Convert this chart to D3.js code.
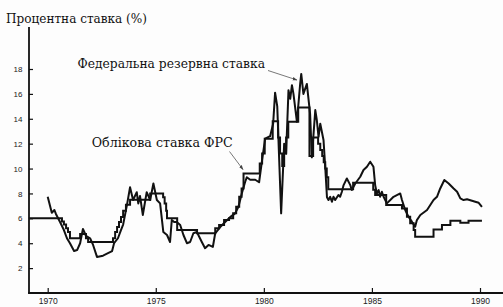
<!DOCTYPE html>
<html>
<head>
<meta charset="utf-8">
<script src="https://cdn.jsdelivr.net/npm/d3@7"></script>
<style>
  html, body { margin: 0; padding: 0; background: #fdfdfd; }
  svg { display: block; }
</style>
</head>
<body>
<div id="chart"></div>
<script>
// federal funds rate
const ffYears = [1970.00, 1970.19, 1970.31, 1970.38, 1970.57, 1970.75, 1970.89, 1971.03, 1971.22, 1971.36,
  1971.50, 1971.63, 1971.77, 1971.96, 1972.10, 1972.28, 1972.56, 1972.79, 1972.98, 1973.07,
  1973.25, 1973.39, 1973.49, 1973.58, 1973.67, 1973.81, 1973.95, 1974.12, 1974.19, 1974.27,
  1974.40, 1974.58, 1974.74, 1974.89, 1975.05, 1975.20, 1975.35, 1975.52, 1975.66, 1975.74,
  1975.85, 1975.97, 1976.13, 1976.28, 1976.44, 1976.59, 1976.74, 1976.90, 1977.13, 1977.28,
  1977.44, 1977.64, 1977.75, 1977.98, 1978.21, 1978.44, 1978.67, 1978.82, 1978.98, 1979.13,
  1979.21, 1979.37, 1979.60, 1979.78, 1979.92, 1980.06, 1980.29, 1980.43, 1980.52, 1980.62,
  1980.71, 1980.80, 1980.94, 1981.03, 1981.14, 1981.22, 1981.30, 1981.37, 1981.53, 1981.68,
  1981.73, 1981.83, 1981.99, 1982.14, 1982.22, 1982.38, 1982.45, 1982.53, 1982.61, 1982.76,
  1982.84, 1982.92, 1982.99, 1983.07, 1983.15, 1983.22, 1983.30, 1983.45, 1983.53, 1983.61,
  1983.69, 1983.84, 1984.00, 1984.07, 1984.23, 1984.46, 1984.61, 1984.77, 1984.92, 1985.07,
  1985.15, 1985.23, 1985.31, 1985.38, 1985.46, 1985.54, 1985.69, 1985.85, 1986.00, 1986.31,
  1986.39, 1986.54, 1986.69, 1986.85, 1987.00, 1987.08, 1987.24, 1987.55, 1987.85, 1988.01,
  1988.16, 1988.35, 1988.55, 1988.78, 1988.94, 1989.09, 1989.24, 1989.40, 1989.63, 1989.78,
  1989.94, 1990.09];
const ffRates = [7.74, 6.45, 6.67, 6.35, 5.7, 5.06, 4.4, 4.0, 3.37, 3.45,
  4.0, 5.15, 4.6, 4.4, 3.86, 2.9, 3.0, 3.2, 3.37, 4.0,
  4.4, 5.06, 5.5, 6.3, 7.1, 8.5, 7.47, 8.1, 7.2, 7.8,
  6.27, 8.1, 7.47, 8.8, 7.47, 7.2, 4.9, 4.66, 4.1, 5.86,
  5.7, 5.7, 5.46, 4.66, 4.0, 4.1, 4.8, 4.9, 4.1, 3.6,
  3.86, 3.7, 4.8, 5.3, 5.7, 6.1, 6.4, 6.9, 8.0, 8.9,
  9.3, 9.1, 9.1, 8.9, 10.7, 12.4, 12.6, 13.6, 16.1, 15.0,
  10.7, 6.4, 12.0, 11.2, 16.3, 15.6, 16.7, 16.0, 13.76, 16.8,
  17.6, 16.0, 16.8, 14.4, 10.9, 14.7, 13.9, 12.55, 13.6, 12.3,
  10.1, 7.7, 7.47, 7.73, 7.33, 7.73, 7.47, 7.87, 7.73, 8.14,
  8.67, 9.2, 8.67, 8.27, 8.8, 9.34, 9.88, 10.15, 10.55, 10.15,
  8.67, 8.0, 8.27, 7.73, 8.14, 7.73, 7.2, 7.47, 7.73, 8.0,
  7.47, 6.67, 6.13, 5.73, 5.33, 5.86, 6.27, 6.67, 7.47, 7.73,
  8.4, 9.08, 8.8, 8.4, 8.14, 7.6, 7.47, 7.53, 7.41, 7.33,
  7.25, 6.93];

// discount rate (step changes)
const drYears = [1969.13, 1970.66, 1970.75, 1970.85, 1970.94, 1971.03, 1971.50, 1971.77, 1971.87, 1973.02,
  1973.12, 1973.21, 1973.30, 1973.39, 1973.49, 1973.62, 1973.81, 1974.74, 1975.34, 1975.41,
  1975.48, 1975.52, 1975.99, 1976.91, 1977.75, 1977.93, 1978.16, 1978.39, 1978.58, 1978.72,
  1978.86, 1978.97, 1979.06, 1979.81, 1979.92, 1980.04, 1980.41, 1980.66, 1980.75, 1980.85,
  1980.94, 1981.03, 1981.13, 1981.59, 1982.11, 1982.28, 1982.51, 1982.61, 1982.70, 1982.77,
  1982.84, 1982.91, 1982.98, 1984.13, 1985.06, 1985.15, 1985.66, 1986.39, 1986.62, 1986.77,
  1986.93, 1987.00, 1987.85, 1988.24, 1988.63, 1989.09, 1989.47, 1990.09];
const drRates = [6.0, 5.75, 5.5, 5.2, 4.9, 4.4, 4.75, 4.4, 4.1, 4.4,
  4.9, 5.3, 5.7, 6.1, 6.6, 7.1, 7.5, 8.0, 7.7, 7.2,
  6.6, 6.0, 5.06, 4.8, 5.2, 5.46, 5.86, 6.0, 6.4, 6.93,
  7.73, 8.4, 9.6, 10.4, 11.2, 12.4, 13.8, 12.5, 11.2, 10.2,
  11.2, 12.5, 13.76, 14.9, 11.0, 12.5, 12.0, 11.5, 11.0, 10.5,
  10.0, 9.3, 8.33, 8.86, 8.3, 7.87, 7.07, 6.8, 6.13, 5.6,
  5.06, 4.52, 5.1, 5.46, 5.8, 5.65, 5.8, 5.8];

const yTicks = [2, 4, 6, 8, 10, 12, 14, 16, 18];
const xTicks = [1970, 1975, 1980, 1985, 1990];

const width = 503, height = 307;

const svg = d3.select('#chart')
  .append('svg')
  .attr('width', width)
  .attr('height', height)
  .attr('viewBox', `0 0 ${width} ${height}`)
  .style('font-family', '"Liberation Sans", Arial, sans-serif');

const x = d3.scaleLinear().domain([1970, 1990]).range([47.7, 480]);
const y = d3.scaleLinear().domain([0, 18]).range([293, 69]);

// axes
const yAxis = d3.axisLeft(y).tickValues(yTicks).tickSizeInner(-4).tickSizeOuter(0).tickPadding(6.5);
const gy = svg.append('g').attr('transform', 'translate(29,0)').call(yAxis);
gy.select('.domain').remove();
gy.selectAll('.tick line').attr('stroke', '#111').attr('stroke-width', 1.2);
gy.selectAll('.tick text').attr('fill', '#222').style('font-size', '8px');

const xAxis = d3.axisBottom(x).tickValues(xTicks).tickFormat(d3.format('d'))
  .tickSizeInner(-5).tickSizeOuter(0).tickPadding(5);
const gx = svg.append('g').attr('transform', 'translate(0,293)').call(xAxis);
gx.select('.domain').remove();
gx.selectAll('.tick line').attr('stroke', '#111').attr('stroke-width', 1.2);
gx.selectAll('.tick text').attr('fill', '#222').style('font-size', '8.5px');

svg.append('line')
  .attr('x1', 29).attr('x2', 29).attr('y1', 27).attr('y2', 293.8)
  .attr('stroke', '#111').attr('stroke-width', 1.8);
svg.append('line')
  .attr('x1', 28.1).attr('x2', 503).attr('y1', 293).attr('y2', 293)
  .attr('stroke', '#111').attr('stroke-width', 1.8);

// series
const ffData = ffYears.map((yr, i) => [yr, ffRates[i]]);
const drData = drYears.map((yr, i) => [yr, drRates[i]]);

const line = d3.line().x(d => x(d[0])).y(d => y(d[1]));
const stepLine = d3.line().x(d => x(d[0])).y(d => y(d[1])).curve(d3.curveStepAfter);

svg.append('path')
  .attr('d', stepLine(drData))
  .attr('fill', 'none')
  .attr('stroke', '#111')
  .attr('stroke-width', 2)
  .attr('stroke-linejoin', 'miter');

svg.append('path')
  .attr('d', line(ffData))
  .attr('fill', 'none')
  .attr('stroke', '#111')
  .attr('stroke-width', 2)
  .attr('stroke-linejoin', 'round');

// texts
const serif = '"DejaVu Serif", "Liberation Serif", serif';

svg.append('text')
  .attr('x', 6).attr('y', 23.3)
  .attr('textLength', 141).attr('lengthAdjust', 'spacingAndGlyphs')
  .style('font-family', serif).style('font-size', '13.5px').attr('fill', '#111')
  .text('Процентна ставка (%)');

svg.append('text')
  .attr('x', 77.5).attr('y', 68.3)
  .attr('textLength', 187.5).attr('lengthAdjust', 'spacingAndGlyphs')
  .style('font-family', serif).style('font-size', '12.5px').attr('fill', '#111')
  .text('Федеральна резервна ставка');

svg.append('text')
  .attr('x', 91.7).attr('y', 146.7)
  .attr('textLength', 141).attr('lengthAdjust', 'spacingAndGlyphs')
  .style('font-family', serif).style('font-size', '12.5px').attr('fill', '#111')
  .text('Облікова ставка ФРС');

// arrows
svg.append('defs').append('marker')
  .attr('id', 'head')
  .attr('viewBox', '0 0 10 10')
  .attr('refX', 9).attr('refY', 5)
  .attr('markerWidth', 6).attr('markerHeight', 6)
  .attr('orient', 'auto')
  .append('path')
  .attr('d', 'M0,1.5 L10,5 L0,8.5 Z')
  .attr('fill', '#444');

svg.append('line')
  .attr('x1', 268).attr('y1', 70.5).attr('x2', 297).attr('y2', 80)
  .attr('stroke', '#555').attr('stroke-width', 0.8)
  .attr('marker-end', 'url(#head)');

svg.append('line')
  .attr('x1', 229.5).attr('y1', 151.5).attr('x2', 243).attr('y2', 169.5)
  .attr('stroke', '#555').attr('stroke-width', 0.8)
  .attr('marker-end', 'url(#head)');
</script>
</body>
</html>
